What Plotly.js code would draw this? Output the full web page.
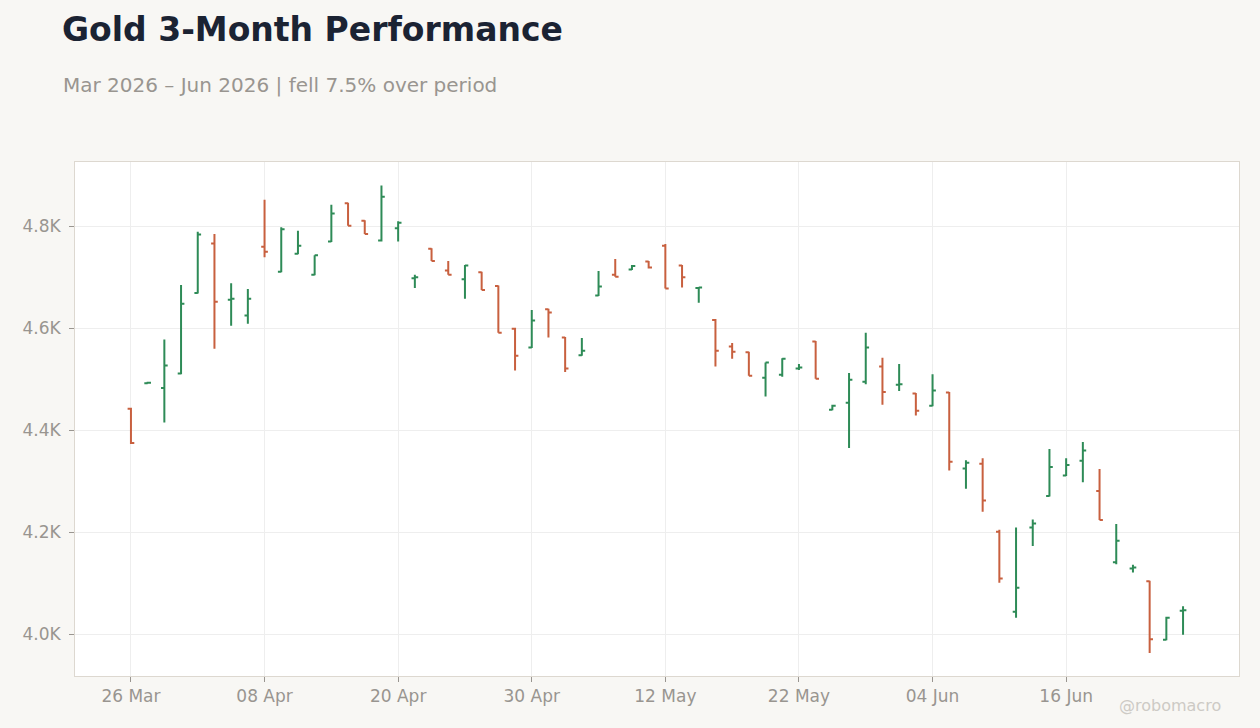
<!DOCTYPE html>
<html>
<head>
<meta charset="utf-8">
<script src="https://cdn.plot.ly/plotly-3.0.1.min.js"></script>
<style>
  html, body { margin: 0; padding: 0; background: #f8f7f4; }
  #chart { width: 1260px; height: 728px; }
</style>
</head>
<body>
<div id="chart"></div>
<script>
// Trading days (Good Friday, Memorial Day, Juneteenth closed)
const dates = [
  '2026-03-26', '2026-03-27', '2026-03-30', '2026-03-31', '2026-04-01', '2026-04-02', '2026-04-06', '2026-04-07',
  '2026-04-08', '2026-04-09', '2026-04-10', '2026-04-13', '2026-04-14', '2026-04-15', '2026-04-16', '2026-04-17',
  '2026-04-20', '2026-04-21', '2026-04-22', '2026-04-23', '2026-04-24', '2026-04-27', '2026-04-28', '2026-04-29',
  '2026-04-30', '2026-05-01', '2026-05-04', '2026-05-05', '2026-05-06', '2026-05-07', '2026-05-08', '2026-05-11',
  '2026-05-12', '2026-05-13', '2026-05-14', '2026-05-15', '2026-05-18', '2026-05-19', '2026-05-20', '2026-05-21',
  '2026-05-22', '2026-05-26', '2026-05-27', '2026-05-28', '2026-05-29', '2026-06-01', '2026-06-02', '2026-06-03',
  '2026-06-04', '2026-06-05', '2026-06-08', '2026-06-09', '2026-06-10', '2026-06-11', '2026-06-12', '2026-06-15',
  '2026-06-16', '2026-06-17', '2026-06-18', '2026-06-22', '2026-06-23', '2026-06-24', '2026-06-25', '2026-06-26'
];

const openPx = [
  4442, 4492, 4483, 4511, 4669, 4766, 4656, 4625,
  4760, 4711, 4746, 4705, 4770, 4845, 4811, 4772,
  4796, 4698, 4756, 4713, 4696, 4710, 4683, 4599,
  4562, 4637, 4582, 4547, 4664, 4705, 4715, 4731,
  4762, 4723, 4679, 4616, 4564, 4553, 4503, 4509,
  4521, 4574, 4440, 4454, 4495, 4525, 4489, 4472,
  4448, 4474, 4325, 4334, 4201, 4044, 4209, 4271,
  4311, 4340, 4281, 4141, 4129, 4104, 3989, 4046
];
const highPx = [
  4444, 4495, 4578, 4685, 4789, 4785, 4688, 4677,
  4852, 4798, 4791, 4743, 4842, 4846, 4812, 4880,
  4810, 4705, 4757, 4732, 4724, 4711, 4684, 4601,
  4636, 4638, 4583, 4581, 4712, 4736, 4724, 4732,
  4765, 4724, 4681, 4618, 4571, 4554, 4533, 4541,
  4530, 4575, 4450, 4512, 4591, 4542, 4530, 4473,
  4510, 4475, 4341, 4345, 4205, 4209, 4225, 4363,
  4345, 4377, 4324, 4216, 4136, 4105, 4034, 4055
];
const lowPx = [
  4373, 4491, 4415, 4510, 4668, 4560, 4605, 4609,
  4739, 4710, 4745, 4704, 4769, 4801, 4785, 4770,
  4770, 4679, 4732, 4705, 4658, 4675, 4591, 4517,
  4561, 4582, 4514, 4546, 4663, 4701, 4714, 4717,
  4678, 4680, 4650, 4525, 4540, 4507, 4466, 4505,
  4518, 4501, 4439, 4365, 4490, 4450, 4477, 4429,
  4447, 4321, 4285, 4240, 4101, 4032, 4173, 4270,
  4310, 4298, 4224, 4137, 4121, 3963, 3988, 3999
];
const closePx = [
  4375, 4493, 4527, 4648, 4784, 4652, 4658, 4658,
  4750, 4794, 4762, 4743, 4825, 4801, 4785, 4858,
  4807, 4700, 4732, 4705, 4723, 4675, 4591, 4546,
  4615, 4631, 4521, 4556, 4682, 4701, 4722, 4719,
  4678, 4700, 4680, 4556, 4554, 4507, 4533, 4540,
  4523, 4501, 4448, 4499, 4562, 4475, 4490, 4438,
  4478, 4338, 4336, 4262, 4109, 4091, 4217, 4328,
  4332, 4360, 4224, 4183, 4131, 3990, 4032, 4047
];

// every 8th trading day gets a label
const xTickVals = ['2026-03-26', '2026-04-08', '2026-04-20', '2026-04-30', '2026-05-12', '2026-05-22', '2026-06-04', '2026-06-16'];
const xTickText = ['26 Mar', '08 Apr', '20 Apr', '30 Apr', '12 May', '22 May', '04 Jun', '16 Jun'];
const yTickVals = [4000, 4200, 4400, 4600, 4800];
const yTickText = yTickVals.map(v => (v / 1000).toFixed(1) + 'K');

const upColor = '#2e8b57';
const downColor = '#c8603f';
const font = 'DejaVu Sans, sans-serif';

const traces = [{
  type: 'ohlc',
  x: dates,
  open: openPx,
  high: highPx,
  low: lowPx,
  close: closePx,
  tickwidth: 0.2,
  increasing: { line: { color: upColor, width: 2 } },
  decreasing: { line: { color: downColor, width: 2 } },
  showlegend: false,
  hoverinfo: 'x+text'
}];

const layout = {
  width: 1260,
  height: 728,
  paper_bgcolor: '#f8f7f4',
  plot_bgcolor: '#ffffff',
  margin: { l: 75, r: 21, t: 162, b: 52 },
  font: { family: font, color: '#999590', size: 17 },
  title: {
    text: '<b>Gold 3-Month Performance</b>',
    font: { family: font, size: 33, color: '#1b2333' },
    xref: 'container', yref: 'container',
    x: 62 / 1260, xanchor: 'left',
    y: 1 - 29 / 728, yanchor: 'middle'
  },
  xaxis: {
    type: 'category',
    range: [-3.35, 66.35],
    rangeslider: { visible: false },
    tickmode: 'array',
    tickvals: xTickVals,
    ticktext: xTickText,
    ticks: 'outside',
    ticklen: 5,
    tickcolor: '#999590',
    tickfont: { size: 17, color: '#999590' },
    showgrid: true,
    gridcolor: '#eeeeee',
    showline: true,
    mirror: true,
    linecolor: '#ddd8d0',
    linewidth: 1,
    zeroline: false
  },
  yaxis: {
    range: [3918, 4926],
    tickmode: 'array',
    tickvals: yTickVals,
    ticktext: yTickText,
    ticks: 'outside',
    ticklen: 5,
    ticklabelstandoff: 5,
    tickcolor: '#999590',
    tickfont: { size: 17, color: '#999590' },
    showgrid: true,
    gridcolor: '#eeeeee',
    showline: true,
    mirror: true,
    linecolor: '#ddd8d0',
    linewidth: 1,
    zeroline: false
  },
  annotations: [
    {
      text: 'Mar 2026 \u2013 Jun 2026 | fell 7.5% over period',
      xref: 'paper', yref: 'paper',
      x: (61 - 75) / 1164, xanchor: 'left',
      y: 1 + (162 - 85) / 514, yanchor: 'middle',
      showarrow: false,
      font: { family: font, size: 20, color: '#999590' }
    },
    {
      text: '@robomacro',
      xref: 'paper', yref: 'paper',
      x: (1223 - 75) / 1164, xanchor: 'right',
      y: -(705 - 676) / 514, yanchor: 'middle',
      showarrow: false,
      font: { family: font, size: 16, color: '#cdcac5' }
    }
  ]
};

const config = { displayModeBar: false, responsive: false };

Plotly.newPlot('chart', traces, layout, config);
</script>
</body>
</html>
